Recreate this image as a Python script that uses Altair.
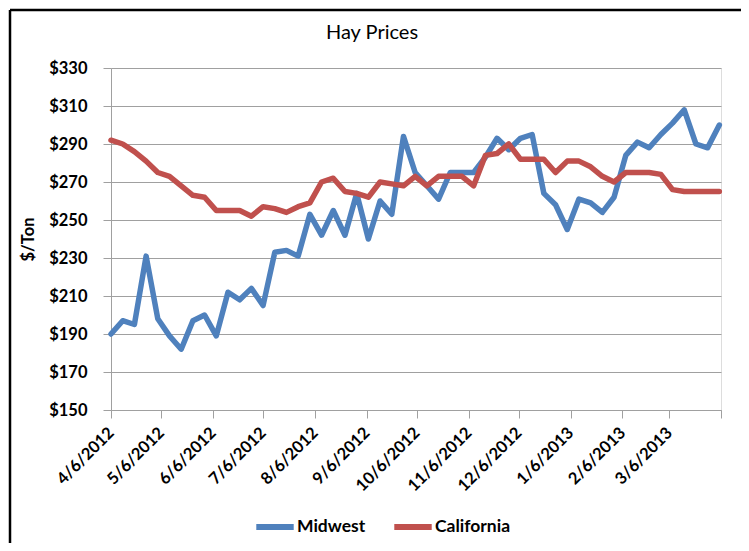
import altair as alt
import pandas as pd

# ---- data ----
start_date = "2012-04-06"
n_weeks = 53
midwest = [190, 197, 195, 231, 198, 189, 182, 197, 200, 189, 212, 208, 214, 205,
           233, 234, 231, 253, 242, 255, 242, 264, 240, 260, 253, 294, 275, 268,
           261, 275, 275, 275, 283, 293, 287, 293, 295, 264, 258, 245, 261, 259,
           254, 262, 284, 291, 288, 295, 301, 308, 290, 288, 300]
california = [292, 290, 286, 281, 275, 273, 268, 263, 262, 255, 255, 255, 252, 257,
              256, 254, 257, 259, 270, 272, 265, 264, 262, 270, 269, 268, 273, 268,
              273, 273, 273, 268, 284, 285, 290, 282, 282, 282, 275, 281, 281, 278,
              273, 270, 275, 275, 275, 274, 266, 265, 265, 265, 265]
series = ["Midwest", "California"]
colors = ["#4F81BD", "#C0504D"]
x_tick_dates = ["2012-04-06", "2012-05-06", "2012-06-06", "2012-07-06", "2012-08-06",
                "2012-09-06", "2012-10-06", "2012-11-06", "2012-12-06", "2013-01-06",
                "2013-02-06", "2013-03-06", "2013-04-06"]
y_ticks = [150, 170, 190, 210, 230, 250, 270, 290, 310, 330]
chart_title = ["Hay Prices"]

dates = list(pd.date_range(start_date, periods=n_weeks, freq="7D").strftime("%Y-%m-%d"))
df = pd.DataFrame({
    "date": dates * 2,
    "price": midwest + california,
    "region": ["Midwest"] * n_weeks + ["California"] * n_weeks,
})

def ms(d):
    return int(pd.Timestamp(d, tz="UTC").timestamp() * 1000)

x_vals = [ms(d) for d in x_tick_dates]

FONT = "Lato"
GRID = "#A0A0A0"

x_enc = alt.X(
    "date:T",
    scale=alt.Scale(type="utc", domain=[x_vals[0], x_vals[-1]]),
    axis=alt.Axis(
        values=x_vals, grid=False, title=None,
        labelExpr="utcyear(datum.value)==2013 && utcmonth(datum.value)==3 ? '' : utcFormat(datum.value, '%-m/%-d/%Y')",
        labelAngle=315, labelAlign="right", labelBaseline="middle",
        labelFont=FONT, labelFontSize=16.5, labelFontWeight="bold", labelColor="#000000",
        labelPadding=12, tickSize=8, tickColor=GRID, domainColor=GRID,
        labelOverlap=False, labelFlush=False,
    ),
)
y_enc = alt.Y(
    "price:Q",
    scale=alt.Scale(domain=[150, 330], nice=False, zero=False),
    axis=alt.Axis(
        values=y_ticks, labelExpr="'$' + datum.value", grid=True, gridColor=GRID,
        domainColor=GRID, tickColor=GRID, tickSize=8, labelPadding=16,
        labelFont=FONT, labelFontSize=16.5, labelFontWeight="bold", labelColor="#000000",
        title="$/Ton", titleFont=FONT, titleFontSize=16.5, titleFontWeight="bold",
        titleColor="#000000", titleAngle=270, titleX=-83, titleY=171,
        titleBaseline="middle", titleAlign="center",
    ),
)
color_enc = alt.Color(
    "region:N",
    scale=alt.Scale(domain=series, range=colors),
    legend=alt.Legend(
        orient="none", legendX=142, legendY=437, direction="horizontal", title=None,
        symbolType="stroke", symbolStrokeWidth=6, symbolSize=1400,
        labelFont=FONT, labelFontSize=17.5, labelFontWeight="bold", labelColor="#000000",
        labelOffset=0, columnPadding=16,
    ),
)

base = alt.Chart(df).mark_line(strokeWidth=5.5, strokeCap="round", strokeJoin="round").encode(
    x=x_enc, y=y_enc, color=color_enc
)
mid_layer = base.transform_filter(alt.datum.region == "Midwest")
cal_layer = base.transform_filter(alt.datum.region == "California")

frame_df = pd.DataFrame({"k": [0]})
left_border = alt.Chart(frame_df).mark_rule(color="#000000", strokeWidth=2.5).encode(
    x=alt.value(-101), y=alt.value(-58), y2=alt.value(700)
)
top_border = alt.Chart(frame_df).mark_rule(color="#000000", strokeWidth=2.5).encode(
    x=alt.value(-101), x2=alt.value(800), y=alt.value(-58)
)
title_layer = alt.Chart(pd.DataFrame({"t": chart_title})).mark_text(
    font=FONT, fontSize=20, fontWeight="normal", color="#000000",
    align="center", baseline="middle",
).encode(text="t:N", x=alt.value(261), y=alt.value(-35))

chart = alt.layer(mid_layer, cal_layer, left_border, top_border, title_layer).properties(
    width=610, height=342,
    autosize=alt.AutoSizeParams(type="none"),
    padding={"left": 103, "top": 60, "right": 20, "bottom": 133},
).configure_view(stroke=None).configure(background="#FFFFFF")

chart.save("out.html", embed_options={"renderer": "svg", "actions": False})
